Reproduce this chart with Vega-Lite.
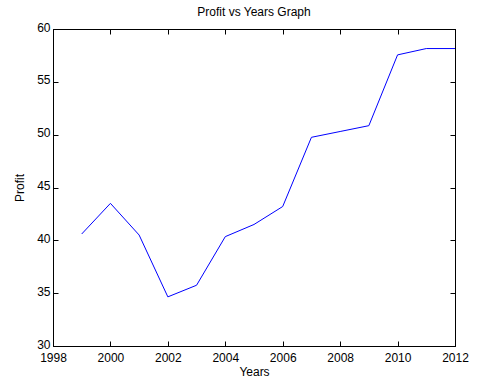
{
  "$schema": "https://vega.github.io/schema/vega-lite/v6.json",
  "width": 402,
  "height": 317,
  "autosize": "none",
  "padding": {"left": 53, "top": 29, "right": 23, "bottom": 35},
  "background": "white",
  "title": {"text": "Profit vs Years Graph", "font": "Liberation Sans", "fontSize": 12, "fontWeight": "normal", "color": "black", "offset": 2, "anchor": "middle"},
  "config": {
    "view": {"stroke": "black", "strokeWidth": 1},
    "axis": {"labelFont": "Liberation Sans", "labelFontSize": 12, "labelColor": "black", "titleFont": "Liberation Sans", "titleFontSize": 12, "titleFontWeight": "normal", "titleColor": "black", "grid": false, "domainColor": "black", "tickColor": "black", "tickSize": -5, "domain": true}
  },
  "data": {"values": [
    {"Year": 1999, "Profit": 40.6},
    {"Year": 2000, "Profit": 43.5},
    {"Year": 2001, "Profit": 40.5},
    {"Year": 2002, "Profit": 34.65},
    {"Year": 2003, "Profit": 35.75},
    {"Year": 2004, "Profit": 40.35},
    {"Year": 2005, "Profit": 41.5},
    {"Year": 2006, "Profit": 43.2},
    {"Year": 2007, "Profit": 49.75},
    {"Year": 2008, "Profit": 50.3},
    {"Year": 2009, "Profit": 50.85},
    {"Year": 2010, "Profit": 57.55},
    {"Year": 2011, "Profit": 58.15},
    {"Year": 2012, "Profit": 58.15}
  ]},
  "resolve": {"axis": {"x": "independent", "y": "independent"}},
  "layer": [
    {
      "mark": {"type": "line", "color": "#0000ff", "strokeWidth": 1},
      "encoding": {
        "x": {"field": "Year", "type": "quantitative", "scale": {"domain": [1998, 2012], "nice": false, "zero": false},
              "axis": {"title": "Years", "values": [1998,2000,2002,2004,2006,2008,2010,2012], "format": "d", "labelPadding": 11, "titlePadding": 3, "labelFlush": false}},
        "y": {"field": "Profit", "type": "quantitative", "scale": {"domain": [30, 60], "nice": false, "zero": false},
              "axis": {"title": "Profit", "values": [30,35,40,45,50,55,60], "labelPadding": 8, "labelOffset": -2, "titlePadding": 10}}
      }
    },
    {
      "mark": {"type": "line", "opacity": 0},
      "encoding": {
        "x": {"field": "Year", "type": "quantitative", "axis": {"orient": "top", "title": null, "labels": false, "values": [1998,2000,2002,2004,2006,2008,2010,2012]}},
        "y": {"field": "Profit", "type": "quantitative", "axis": {"orient": "right", "title": null, "labels": false, "values": [30,35,40,45,50,55,60]}}
      }
    }
  ]
}
